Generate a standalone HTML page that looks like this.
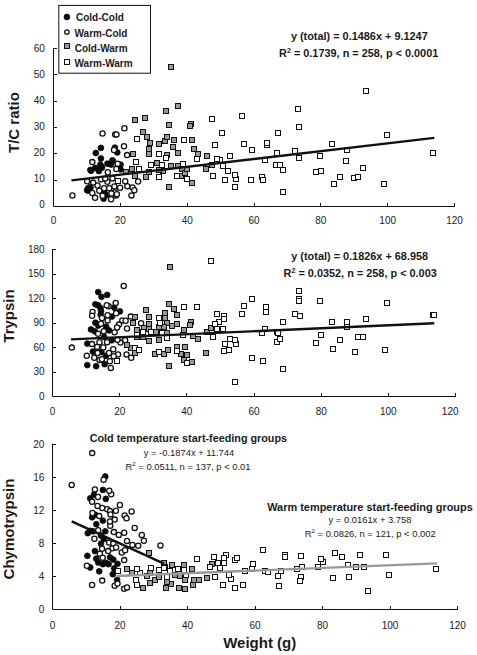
<!DOCTYPE html>
<html><head><meta charset="utf-8"><title>chart</title>
<style>html,body{margin:0;padding:0;background:#fff}svg{display:block}
text{font-family:"Liberation Sans",sans-serif;fill:#1a1a1a}
.t{font-size:10px}.s{font-size:9.4px}.b{font-weight:bold}
.ax{stroke:#111;stroke-width:1;fill:none}
.C{fill:#0a0a0a;stroke:#0a0a0a;stroke-width:0.8}
.O{fill:#fff;stroke:#111;stroke-width:1.3}
.G{fill:#999;stroke:#111;stroke-width:1}
.W{fill:#fff;stroke:#111;stroke-width:1}
</style></head><body>
<svg width="477" height="655" viewBox="0 0 477 655">
<rect width="477" height="655" fill="#fff"/>
<g id="p1">
<path class="ax" d="M53.5 48.0 V206.5 H455.0"/>
<text class="t" x="44.8" y="208.4" text-anchor="end">0</text>
<text class="t" x="44.8" y="182.3" text-anchor="end">10</text>
<text class="t" x="44.8" y="156.2" text-anchor="end">20</text>
<text class="t" x="44.8" y="130.1" text-anchor="end">30</text>
<text class="t" x="44.8" y="104.0" text-anchor="end">40</text>
<text class="t" x="44.8" y="77.9" text-anchor="end">50</text>
<text class="t" x="44.8" y="51.8" text-anchor="end">60</text>
<text class="t" x="53.5" y="223.7" text-anchor="middle">0</text>
<text class="t" x="120.3" y="223.7" text-anchor="middle">20</text>
<text class="t" x="187.2" y="223.7" text-anchor="middle">40</text>
<text class="t" x="254.0" y="223.7" text-anchor="middle">60</text>
<text class="t" x="320.8" y="223.7" text-anchor="middle">80</text>
<text class="t" x="387.7" y="223.7" text-anchor="middle">100</text>
<text class="t" x="454.5" y="223.7" text-anchor="middle">120</text>
<path class="ax" d="M53.5 180.5h3.5M53.5 153.5h3.5M53.5 127.5h3.5M53.5 101.5h3.5M53.5 74.5h3.5M53.5 48.5h3.5M120.5 206.5v-3.5M187.5 206.5v-3.5M254.5 206.5v-3.5M320.5 206.5v-3.5M387.5 206.5v-3.5M454.5 206.5v-3.5"/>
<circle class="C" cx="100.9" cy="147.9" r="2.9"/>
<circle class="C" cx="95.8" cy="153.0" r="2.9"/>
<circle class="C" cx="100.9" cy="158.5" r="2.9"/>
<circle class="C" cx="104.5" cy="193.0" r="2.9"/>
<circle class="C" cx="112.5" cy="160.4" r="2.9"/>
<circle class="C" cx="98.9" cy="170.4" r="2.9"/>
<circle class="C" cx="90.4" cy="187.8" r="2.9"/>
<circle class="C" cx="114.9" cy="147.6" r="2.9"/>
<circle class="C" cx="90.4" cy="169.9" r="2.9"/>
<circle class="C" cx="95.1" cy="168.0" r="2.9"/>
<circle class="C" cx="88.0" cy="188.3" r="2.9"/>
<circle class="C" cx="117.3" cy="152.4" r="2.9"/>
<circle class="C" cx="107.4" cy="163.7" r="2.9"/>
<circle class="C" cx="87.1" cy="190.2" r="2.9"/>
<circle class="C" cx="100.3" cy="164.6" r="2.9"/>
<circle class="C" cx="111.1" cy="164.6" r="2.9"/>
<circle class="C" cx="103.6" cy="198.7" r="2.9"/>
<circle class="C" cx="120.6" cy="164.6" r="2.9"/>
<circle class="C" cx="120.6" cy="169.4" r="2.9"/>
<circle class="C" cx="106" cy="195.2" r="2.9"/>
<circle class="C" cx="101" cy="166.2" r="2.9"/>
<circle class="C" cx="98.9" cy="171" r="2.9"/>
<circle class="C" cx="91" cy="170.7" r="2.9"/>
<circle class="C" cx="102" cy="167.6" r="2.9"/>
<circle class="C" cx="112.7" cy="160.7" r="2.9"/>
<circle class="C" cx="88" cy="190.5" r="2.9"/>
<circle class="C" cx="90.1" cy="187.2" r="2.9"/>
<circle class="O" cx="138.1" cy="181.5" r="2.6"/>
<circle class="O" cx="107.4" cy="181.7" r="2.6"/>
<circle class="O" cx="97.5" cy="185.5" r="2.6"/>
<circle class="O" cx="132.5" cy="187.4" r="2.6"/>
<circle class="O" cx="104.1" cy="188.3" r="2.6"/>
<circle class="O" cx="109.2" cy="188.3" r="2.6"/>
<circle class="O" cx="134.3" cy="190.2" r="2.6"/>
<circle class="O" cx="99.3" cy="190.7" r="2.6"/>
<circle class="O" cx="93.2" cy="182.6" r="2.6"/>
<circle class="O" cx="112.5" cy="178.4" r="2.6"/>
<circle class="O" cx="107.8" cy="172.3" r="2.6"/>
<circle class="O" cx="127.3" cy="186.2" r="2.6"/>
<circle class="O" cx="92.3" cy="193.0" r="2.6"/>
<circle class="O" cx="114.0" cy="150.0" r="2.6"/>
<circle class="O" cx="114.4" cy="186.4" r="2.6"/>
<circle class="O" cx="125.2" cy="181.2" r="2.6"/>
<circle class="O" cx="114.9" cy="192.5" r="2.6"/>
<circle class="O" cx="127.1" cy="155.1" r="2.6"/>
<circle class="O" cx="131.5" cy="195.4" r="2.6"/>
<circle class="O" cx="115.2" cy="134.4" r="2.6"/>
<circle class="O" cx="92.3" cy="162.1" r="2.6"/>
<circle class="O" cx="102.6" cy="195.8" r="2.6"/>
<circle class="O" cx="124.0" cy="146.2" r="2.6"/>
<circle class="O" cx="116.3" cy="169.0" r="2.6"/>
<circle class="O" cx="102.5" cy="133.5" r="2.6"/>
<circle class="O" cx="116.5" cy="134.4" r="2.6"/>
<circle class="O" cx="124.4" cy="128.3" r="2.6"/>
<circle class="O" cx="117.7" cy="163.7" r="2.6"/>
<circle class="O" cx="95.1" cy="197.7" r="2.6"/>
<circle class="O" cx="87.1" cy="181.2" r="2.6"/>
<circle class="O" cx="111.1" cy="199.2" r="2.6"/>
<circle class="O" cx="120.1" cy="187.8" r="2.6"/>
<circle class="O" cx="115.9" cy="195.4" r="2.6"/>
<circle class="O" cx="72.4" cy="195.5" r="2.6"/>
<circle class="O" cx="116.9" cy="194.3" r="2.6"/>
<circle class="O" cx="101" cy="179.2" r="2.6"/>
<circle class="O" cx="105.2" cy="178.4" r="2.6"/>
<circle class="O" cx="111.4" cy="193.5" r="2.6"/>
<rect class="G" x="168.5" y="163.5" width="5" height="5"/>
<rect class="G" x="160.5" y="168.5" width="5" height="5"/>
<rect class="G" x="175.5" y="103.5" width="5" height="5"/>
<rect class="G" x="175.5" y="163.5" width="5" height="5"/>
<rect class="G" x="163.5" y="108.5" width="5" height="5"/>
<rect class="G" x="178.5" y="173.5" width="5" height="5"/>
<rect class="G" x="156.5" y="167.5" width="5" height="5"/>
<rect class="G" x="132.5" y="173.5" width="5" height="5"/>
<rect class="G" x="179.5" y="166.5" width="5" height="5"/>
<rect class="G" x="154.5" y="160.5" width="5" height="5"/>
<rect class="G" x="182.5" y="170.5" width="5" height="5"/>
<rect class="G" x="164.5" y="152.5" width="5" height="5"/>
<rect class="G" x="143.5" y="174.5" width="5" height="5"/>
<rect class="G" x="144.5" y="134.5" width="5" height="5"/>
<rect class="G" x="175.5" y="150.5" width="5" height="5"/>
<rect class="G" x="184.5" y="166.5" width="5" height="5"/>
<rect class="G" x="166.5" y="184.5" width="5" height="5"/>
<rect class="G" x="140.5" y="129.5" width="5" height="5"/>
<rect class="G" x="146.5" y="169.5" width="5" height="5"/>
<rect class="G" x="123.5" y="169.5" width="5" height="5"/>
<rect class="G" x="130.5" y="151.5" width="5" height="5"/>
<rect class="G" x="146.5" y="151.5" width="5" height="5"/>
<rect class="G" x="146.5" y="146.5" width="5" height="5"/>
<rect class="G" x="189.5" y="180.5" width="5" height="5"/>
<rect class="G" x="147.5" y="140.5" width="5" height="5"/>
<rect class="G" x="170.5" y="144.5" width="5" height="5"/>
<rect class="G" x="129.5" y="166.5" width="5" height="5"/>
<rect class="G" x="191.5" y="146.5" width="5" height="5"/>
<rect class="G" x="188.5" y="121.5" width="5" height="5"/>
<rect class="G" x="166.5" y="122.5" width="5" height="5"/>
<rect class="G" x="142.5" y="115.5" width="5" height="5"/>
<rect class="G" x="156.5" y="141.5" width="5" height="5"/>
<rect class="G" x="187.5" y="123.5" width="5" height="5"/>
<rect class="G" x="195.5" y="151.5" width="5" height="5"/>
<rect class="G" x="162.5" y="138.5" width="5" height="5"/>
<rect class="G" x="171.5" y="137.5" width="5" height="5"/>
<rect class="G" x="189.5" y="137.5" width="5" height="5"/>
<rect class="G" x="168.5" y="64.5" width="5" height="5"/>
<rect class="G" x="164.5" y="134.5" width="5" height="5"/>
<rect class="G" x="132.5" y="117.5" width="5" height="5"/>
<rect class="G" x="203.5" y="166.5" width="5" height="5"/>
<rect class="G" x="204.5" y="153.5" width="5" height="5"/>
<rect class="G" x="209.5" y="162.5" width="5" height="5"/>
<rect class="W" x="134.5" y="136.5" width="5" height="5"/>
<rect class="W" x="174.5" y="173.5" width="5" height="5"/>
<rect class="W" x="159.5" y="162.5" width="5" height="5"/>
<rect class="W" x="318.5" y="168.5" width="5" height="5"/>
<rect class="W" x="337.5" y="174.5" width="5" height="5"/>
<rect class="W" x="248.5" y="177.5" width="5" height="5"/>
<rect class="W" x="156.5" y="174.5" width="5" height="5"/>
<rect class="W" x="259.5" y="174.5" width="5" height="5"/>
<rect class="W" x="163.5" y="155.5" width="5" height="5"/>
<rect class="W" x="180.5" y="161.5" width="5" height="5"/>
<rect class="W" x="260.5" y="177.5" width="5" height="5"/>
<rect class="W" x="313.5" y="169.5" width="5" height="5"/>
<rect class="W" x="331.5" y="181.5" width="5" height="5"/>
<rect class="W" x="233.5" y="176.5" width="5" height="5"/>
<rect class="W" x="317.5" y="153.5" width="5" height="5"/>
<rect class="W" x="262.5" y="157.5" width="5" height="5"/>
<rect class="W" x="232.5" y="172.5" width="5" height="5"/>
<rect class="W" x="239.5" y="113.5" width="5" height="5"/>
<rect class="W" x="343.5" y="158.5" width="5" height="5"/>
<rect class="W" x="156.5" y="151.5" width="5" height="5"/>
<rect class="W" x="232.5" y="184.5" width="5" height="5"/>
<rect class="W" x="184.5" y="176.5" width="5" height="5"/>
<rect class="W" x="148.5" y="162.5" width="5" height="5"/>
<rect class="W" x="344.5" y="147.5" width="5" height="5"/>
<rect class="W" x="249.5" y="147.5" width="5" height="5"/>
<rect class="W" x="227.5" y="153.5" width="5" height="5"/>
<rect class="W" x="225.5" y="168.5" width="5" height="5"/>
<rect class="W" x="136.5" y="166.5" width="5" height="5"/>
<rect class="W" x="430.5" y="150.5" width="5" height="5"/>
<rect class="W" x="351.5" y="175.5" width="5" height="5"/>
<rect class="W" x="264.5" y="142.5" width="5" height="5"/>
<rect class="W" x="222.5" y="177.5" width="5" height="5"/>
<rect class="W" x="273.5" y="162.5" width="5" height="5"/>
<rect class="W" x="241.5" y="141.5" width="5" height="5"/>
<rect class="W" x="329.5" y="141.5" width="5" height="5"/>
<rect class="W" x="381.5" y="181.5" width="5" height="5"/>
<rect class="W" x="220.5" y="163.5" width="5" height="5"/>
<rect class="W" x="194.5" y="156.5" width="5" height="5"/>
<rect class="W" x="115.5" y="178.5" width="5" height="5"/>
<rect class="W" x="264.5" y="140.5" width="5" height="5"/>
<rect class="W" x="274.5" y="150.5" width="5" height="5"/>
<rect class="W" x="355.5" y="174.5" width="5" height="5"/>
<rect class="W" x="217.5" y="157.5" width="5" height="5"/>
<rect class="W" x="277.5" y="162.5" width="5" height="5"/>
<rect class="W" x="181.5" y="137.5" width="5" height="5"/>
<rect class="W" x="296.5" y="124.5" width="5" height="5"/>
<rect class="W" x="296.5" y="155.5" width="5" height="5"/>
<rect class="W" x="295.5" y="106.5" width="5" height="5"/>
<rect class="W" x="214.5" y="156.5" width="5" height="5"/>
<rect class="W" x="360.5" y="165.5" width="5" height="5"/>
<rect class="W" x="280.5" y="167.5" width="5" height="5"/>
<rect class="W" x="280.5" y="189.5" width="5" height="5"/>
<rect class="W" x="219.5" y="130.5" width="5" height="5"/>
<rect class="W" x="275.5" y="130.5" width="5" height="5"/>
<rect class="W" x="133.5" y="159.5" width="5" height="5"/>
<rect class="W" x="292.5" y="148.5" width="5" height="5"/>
<rect class="W" x="212.5" y="142.5" width="5" height="5"/>
<rect class="W" x="384.5" y="132.5" width="5" height="5"/>
<rect class="W" x="363.5" y="88.5" width="5" height="5"/>
<rect class="W" x="210.5" y="173.5" width="5" height="5"/>
<rect class="W" x="209.5" y="116.5" width="5" height="5"/>
</g>
<g id="p2">
<path class="ax" d="M52.5 249.0 V396.5 H456.0"/>
<text class="t" x="44.6" y="399.6" text-anchor="end">0</text>
<text class="t" x="44.6" y="375.1" text-anchor="end">30</text>
<text class="t" x="44.6" y="350.6" text-anchor="end">60</text>
<text class="t" x="44.6" y="326.2" text-anchor="end">90</text>
<text class="t" x="44.6" y="301.7" text-anchor="end">120</text>
<text class="t" x="44.6" y="277.2" text-anchor="end">150</text>
<text class="t" x="44.6" y="252.8" text-anchor="end">180</text>
<text class="t" x="52.5" y="415.4" text-anchor="middle">0</text>
<text class="t" x="119.7" y="415.4" text-anchor="middle">20</text>
<text class="t" x="186.8" y="415.4" text-anchor="middle">40</text>
<text class="t" x="254.0" y="415.4" text-anchor="middle">60</text>
<text class="t" x="321.2" y="415.4" text-anchor="middle">80</text>
<text class="t" x="388.3" y="415.4" text-anchor="middle">100</text>
<text class="t" x="450.2" y="415.4" text-anchor="middle">120</text>
<path class="ax" d="M52.5 372.5h3.5M52.5 347.5h3.5M52.5 323.5h3.5M52.5 298.5h3.5M52.5 274.5h3.5M52.5 249.5h3.5M119.5 396.5v-3.5M186.5 396.5v-3.5M254.5 396.5v-3.5M321.5 396.5v-3.5M388.5 396.5v-3.5M455.5 396.5v-3.5"/>
<circle class="C" cx="96.2" cy="366.2" r="2.9"/>
<circle class="C" cx="101.0" cy="311.4" r="2.9"/>
<circle class="C" cx="114.2" cy="307.6" r="2.9"/>
<circle class="C" cx="104.2" cy="337.0" r="2.9"/>
<circle class="C" cx="100.6" cy="308.1" r="2.9"/>
<circle class="C" cx="100.6" cy="314.7" r="2.9"/>
<circle class="C" cx="104.7" cy="364.2" r="2.9"/>
<circle class="C" cx="111.9" cy="316.6" r="2.9"/>
<circle class="C" cx="92.9" cy="351.6" r="2.9"/>
<circle class="C" cx="98.2" cy="305.3" r="2.9"/>
<circle class="C" cx="101.4" cy="352.1" r="2.9"/>
<circle class="C" cx="87.3" cy="343.6" r="2.9"/>
<circle class="C" cx="87.3" cy="365.1" r="2.9"/>
<circle class="C" cx="101.5" cy="296.8" r="2.9"/>
<circle class="C" cx="94.8" cy="331.3" r="2.9"/>
<circle class="C" cx="95.4" cy="304.3" r="2.9"/>
<circle class="C" cx="109.0" cy="330.4" r="2.9"/>
<circle class="C" cx="119.9" cy="311.4" r="2.9"/>
<circle class="C" cx="107.2" cy="294.9" r="2.9"/>
<circle class="C" cx="91.0" cy="329.4" r="2.9"/>
<circle class="C" cx="106.1" cy="355.8" r="2.9"/>
<circle class="C" cx="111.8" cy="340.3" r="2.9"/>
<circle class="C" cx="95.4" cy="322.7" r="2.9"/>
<circle class="C" cx="98.2" cy="292.1" r="2.9"/>
<circle class="C" cx="106.1" cy="326.6" r="2.9"/>
<circle class="C" cx="98.2" cy="325.6" r="2.9"/>
<circle class="O" cx="108.6" cy="306.2" r="2.6"/>
<circle class="O" cx="99.5" cy="342.2" r="2.6"/>
<circle class="O" cx="106.7" cy="305.3" r="2.6"/>
<circle class="O" cx="97.2" cy="346.9" r="2.6"/>
<circle class="O" cx="92.0" cy="344.1" r="2.6"/>
<circle class="O" cx="103.3" cy="347.4" r="2.6"/>
<circle class="O" cx="107.6" cy="315.2" r="2.6"/>
<circle class="O" cx="125.1" cy="340.3" r="2.6"/>
<circle class="O" cx="115.7" cy="302.9" r="2.6"/>
<circle class="O" cx="130.8" cy="316.6" r="2.6"/>
<circle class="O" cx="116.1" cy="313.3" r="2.6"/>
<circle class="O" cx="98.1" cy="333.7" r="2.6"/>
<circle class="O" cx="107.1" cy="342.2" r="2.6"/>
<circle class="O" cx="102.0" cy="318.0" r="2.6"/>
<circle class="O" cx="97.6" cy="353.0" r="2.6"/>
<circle class="O" cx="103.8" cy="331.3" r="2.6"/>
<circle class="O" cx="109.0" cy="353.0" r="2.6"/>
<circle class="O" cx="126.5" cy="354.4" r="2.6"/>
<circle class="O" cx="120.4" cy="342.6" r="2.6"/>
<circle class="O" cx="122.3" cy="320.4" r="2.6"/>
<circle class="O" cx="109.9" cy="361.3" r="2.6"/>
<circle class="O" cx="107.6" cy="320.4" r="2.6"/>
<circle class="O" cx="125.6" cy="320.8" r="2.6"/>
<circle class="O" cx="99.5" cy="359.9" r="2.6"/>
<circle class="O" cx="86.8" cy="355.8" r="2.6"/>
<circle class="O" cx="101.9" cy="359.2" r="2.6"/>
<circle class="O" cx="110.8" cy="367.9" r="2.6"/>
<circle class="O" cx="127.0" cy="328.5" r="2.6"/>
<circle class="O" cx="118.0" cy="354.4" r="2.6"/>
<circle class="O" cx="94.3" cy="357.7" r="2.6"/>
<circle class="O" cx="92.5" cy="311.9" r="2.6"/>
<circle class="O" cx="117.5" cy="339.8" r="2.6"/>
<circle class="O" cx="141.1" cy="323.2" r="2.6"/>
<circle class="O" cx="131.2" cy="357.7" r="2.6"/>
<circle class="O" cx="92.1" cy="315.7" r="2.6"/>
<circle class="O" cx="113.2" cy="349.2" r="2.6"/>
<circle class="O" cx="101.0" cy="323.7" r="2.6"/>
<circle class="O" cx="113.7" cy="356.3" r="2.6"/>
<circle class="O" cx="119.0" cy="324.6" r="2.6"/>
<circle class="O" cx="114.6" cy="332.3" r="2.6"/>
<circle class="O" cx="117.1" cy="327.5" r="2.6"/>
<circle class="O" cx="123.7" cy="285.9" r="2.6"/>
<circle class="O" cx="71.8" cy="347.6" r="2.6"/>
<rect class="G" x="161.5" y="351.5" width="5" height="5"/>
<rect class="G" x="166.5" y="363.5" width="5" height="5"/>
<rect class="G" x="128.5" y="345.5" width="5" height="5"/>
<rect class="G" x="165.5" y="347.5" width="5" height="5"/>
<rect class="G" x="134.5" y="334.5" width="5" height="5"/>
<rect class="G" x="124.5" y="342.5" width="5" height="5"/>
<rect class="G" x="178.5" y="351.5" width="5" height="5"/>
<rect class="G" x="166.5" y="301.5" width="5" height="5"/>
<rect class="G" x="174.5" y="344.5" width="5" height="5"/>
<rect class="G" x="181.5" y="357.5" width="5" height="5"/>
<rect class="G" x="182.5" y="344.5" width="5" height="5"/>
<rect class="G" x="152.5" y="351.5" width="5" height="5"/>
<rect class="G" x="132.5" y="314.5" width="5" height="5"/>
<rect class="G" x="171.5" y="306.5" width="5" height="5"/>
<rect class="G" x="184.5" y="352.5" width="5" height="5"/>
<rect class="G" x="132.5" y="350.5" width="5" height="5"/>
<rect class="G" x="140.5" y="334.5" width="5" height="5"/>
<rect class="G" x="156.5" y="337.5" width="5" height="5"/>
<rect class="G" x="146.5" y="338.5" width="5" height="5"/>
<rect class="G" x="162.5" y="310.5" width="5" height="5"/>
<rect class="G" x="189.5" y="359.5" width="5" height="5"/>
<rect class="G" x="174.5" y="312.5" width="5" height="5"/>
<rect class="G" x="134.5" y="327.5" width="5" height="5"/>
<rect class="G" x="167.5" y="264.5" width="5" height="5"/>
<rect class="G" x="143.5" y="307.5" width="5" height="5"/>
<rect class="G" x="190.5" y="333.5" width="5" height="5"/>
<rect class="G" x="146.5" y="314.5" width="5" height="5"/>
<rect class="G" x="162.5" y="315.5" width="5" height="5"/>
<rect class="G" x="141.5" y="325.5" width="5" height="5"/>
<rect class="G" x="130.5" y="320.5" width="5" height="5"/>
<rect class="G" x="164.5" y="330.5" width="5" height="5"/>
<rect class="G" x="153.5" y="329.5" width="5" height="5"/>
<rect class="G" x="195.5" y="336.5" width="5" height="5"/>
<rect class="G" x="146.5" y="326.5" width="5" height="5"/>
<rect class="G" x="146.5" y="321.5" width="5" height="5"/>
<rect class="G" x="181.5" y="327.5" width="5" height="5"/>
<rect class="G" x="188.5" y="319.5" width="5" height="5"/>
<rect class="G" x="164.5" y="320.5" width="5" height="5"/>
<rect class="G" x="174.5" y="321.5" width="5" height="5"/>
<rect class="G" x="187.5" y="322.5" width="5" height="5"/>
<rect class="G" x="156.5" y="324.5" width="5" height="5"/>
<rect class="G" x="161.5" y="324.5" width="5" height="5"/>
<rect class="G" x="169.5" y="323.5" width="5" height="5"/>
<rect class="G" x="203.5" y="350.5" width="5" height="5"/>
<rect class="G" x="204.5" y="329.5" width="5" height="5"/>
<rect class="G" x="208.5" y="325.5" width="5" height="5"/>
<rect class="W" x="249.5" y="355.5" width="5" height="5"/>
<rect class="W" x="329.5" y="319.5" width="5" height="5"/>
<rect class="W" x="249.5" y="296.5" width="5" height="5"/>
<rect class="W" x="174.5" y="348.5" width="5" height="5"/>
<rect class="W" x="132.5" y="345.5" width="5" height="5"/>
<rect class="W" x="156.5" y="349.5" width="5" height="5"/>
<rect class="W" x="134.5" y="332.5" width="5" height="5"/>
<rect class="W" x="260.5" y="358.5" width="5" height="5"/>
<rect class="W" x="241.5" y="303.5" width="5" height="5"/>
<rect class="W" x="136.5" y="347.5" width="5" height="5"/>
<rect class="W" x="181.5" y="304.5" width="5" height="5"/>
<rect class="W" x="318.5" y="332.5" width="5" height="5"/>
<rect class="W" x="233.5" y="341.5" width="5" height="5"/>
<rect class="W" x="263.5" y="304.5" width="5" height="5"/>
<rect class="W" x="344.5" y="319.5" width="5" height="5"/>
<rect class="W" x="184.5" y="360.5" width="5" height="5"/>
<rect class="W" x="344.5" y="324.5" width="5" height="5"/>
<rect class="W" x="317.5" y="298.5" width="5" height="5"/>
<rect class="W" x="140.5" y="329.5" width="5" height="5"/>
<rect class="W" x="232.5" y="337.5" width="5" height="5"/>
<rect class="W" x="337.5" y="337.5" width="5" height="5"/>
<rect class="W" x="263.5" y="309.5" width="5" height="5"/>
<rect class="W" x="227.5" y="336.5" width="5" height="5"/>
<rect class="W" x="226.5" y="347.5" width="5" height="5"/>
<rect class="W" x="164.5" y="335.5" width="5" height="5"/>
<rect class="W" x="239.5" y="311.5" width="5" height="5"/>
<rect class="W" x="232.5" y="379.5" width="5" height="5"/>
<rect class="W" x="430.5" y="312.5" width="5" height="5"/>
<rect class="W" x="384.5" y="300.5" width="5" height="5"/>
<rect class="W" x="313.5" y="340.5" width="5" height="5"/>
<rect class="W" x="431.5" y="312.5" width="5" height="5"/>
<rect class="W" x="180.5" y="332.5" width="5" height="5"/>
<rect class="W" x="222.5" y="341.5" width="5" height="5"/>
<rect class="W" x="156.5" y="315.5" width="5" height="5"/>
<rect class="W" x="221.5" y="348.5" width="5" height="5"/>
<rect class="W" x="221.5" y="313.5" width="5" height="5"/>
<rect class="W" x="194.5" y="304.5" width="5" height="5"/>
<rect class="W" x="274.5" y="339.5" width="5" height="5"/>
<rect class="W" x="221.5" y="316.5" width="5" height="5"/>
<rect class="W" x="159.5" y="330.5" width="5" height="5"/>
<rect class="W" x="259.5" y="330.5" width="5" height="5"/>
<rect class="W" x="355.5" y="334.5" width="5" height="5"/>
<rect class="W" x="148.5" y="329.5" width="5" height="5"/>
<rect class="W" x="274.5" y="329.5" width="5" height="5"/>
<rect class="W" x="275.5" y="330.5" width="5" height="5"/>
<rect class="W" x="330.5" y="346.5" width="5" height="5"/>
<rect class="W" x="297.5" y="313.5" width="5" height="5"/>
<rect class="W" x="277.5" y="336.5" width="5" height="5"/>
<rect class="W" x="382.5" y="347.5" width="5" height="5"/>
<rect class="W" x="216.5" y="319.5" width="5" height="5"/>
<rect class="W" x="296.5" y="296.5" width="5" height="5"/>
<rect class="W" x="296.5" y="298.5" width="5" height="5"/>
<rect class="W" x="157.5" y="320.5" width="5" height="5"/>
<rect class="W" x="220.5" y="326.5" width="5" height="5"/>
<rect class="W" x="262.5" y="326.5" width="5" height="5"/>
<rect class="W" x="296.5" y="288.5" width="5" height="5"/>
<rect class="W" x="352.5" y="349.5" width="5" height="5"/>
<rect class="W" x="214.5" y="311.5" width="5" height="5"/>
<rect class="W" x="280.5" y="319.5" width="5" height="5"/>
<rect class="W" x="280.5" y="366.5" width="5" height="5"/>
<rect class="W" x="360.5" y="334.5" width="5" height="5"/>
<rect class="W" x="214.5" y="326.5" width="5" height="5"/>
<rect class="W" x="114.5" y="358.5" width="5" height="5"/>
<rect class="W" x="292.5" y="311.5" width="5" height="5"/>
<rect class="W" x="212.5" y="321.5" width="5" height="5"/>
<rect class="W" x="363.5" y="316.5" width="5" height="5"/>
<rect class="W" x="210.5" y="334.5" width="5" height="5"/>
<rect class="W" x="208.5" y="258.5" width="5" height="5"/>
</g>
<g id="p3">
<path class="ax" d="M52.5 444.0 V609.5 H458.0"/>
<text class="t" x="44.4" y="612.7" text-anchor="end">0</text>
<text class="t" x="44.4" y="579.7" text-anchor="end">4</text>
<text class="t" x="44.4" y="546.8" text-anchor="end">8</text>
<text class="t" x="44.4" y="513.8" text-anchor="end">12</text>
<text class="t" x="44.4" y="480.8" text-anchor="end">16</text>
<text class="t" x="44.4" y="447.9" text-anchor="end">20</text>
<text class="t" x="52.5" y="628.8" text-anchor="middle">0</text>
<text class="t" x="120.0" y="628.8" text-anchor="middle">20</text>
<text class="t" x="187.5" y="628.8" text-anchor="middle">40</text>
<text class="t" x="255.0" y="628.8" text-anchor="middle">60</text>
<text class="t" x="322.5" y="628.8" text-anchor="middle">80</text>
<text class="t" x="390.0" y="628.8" text-anchor="middle">100</text>
<text class="t" x="457.5" y="628.8" text-anchor="middle">120</text>
<path class="ax" d="M52.5 576.5h3.5M52.5 543.5h3.5M52.5 510.5h3.5M52.5 477.5h3.5M52.5 444.5h3.5M120.5 609.5v-3.5M187.5 609.5v-3.5M255.5 609.5v-3.5M322.5 609.5v-3.5M390.5 609.5v-3.5M457.5 609.5v-3.5"/>
<circle class="C" cx="105.8" cy="498.9" r="2.9"/>
<circle class="C" cx="103.9" cy="538.9" r="2.9"/>
<circle class="C" cx="105.3" cy="476.5" r="2.9"/>
<circle class="C" cx="101.0" cy="543.6" r="2.9"/>
<circle class="C" cx="101.0" cy="535.6" r="2.9"/>
<circle class="C" cx="112.8" cy="574.2" r="2.9"/>
<circle class="C" cx="117.1" cy="579.8" r="2.9"/>
<circle class="C" cx="105.3" cy="531.3" r="2.9"/>
<circle class="C" cx="99.2" cy="571.3" r="2.9"/>
<circle class="C" cx="95.4" cy="514.9" r="2.9"/>
<circle class="C" cx="102.9" cy="489.9" r="2.9"/>
<circle class="C" cx="94.9" cy="551.1" r="2.9"/>
<circle class="C" cx="94.0" cy="494.6" r="2.9"/>
<circle class="C" cx="114.2" cy="568.5" r="2.9"/>
<circle class="C" cx="110.0" cy="557.3" r="2.9"/>
<circle class="C" cx="93.0" cy="531.3" r="2.9"/>
<circle class="C" cx="92.1" cy="517.3" r="2.9"/>
<circle class="C" cx="96.3" cy="558.7" r="2.9"/>
<circle class="C" cx="113.3" cy="559.6" r="2.9"/>
<circle class="C" cx="90.2" cy="498.4" r="2.9"/>
<circle class="C" cx="90.2" cy="530.8" r="2.9"/>
<circle class="C" cx="90.2" cy="567.5" r="2.9"/>
<circle class="C" cx="102.9" cy="520.6" r="2.9"/>
<circle class="C" cx="96.3" cy="524.2" r="2.9"/>
<circle class="C" cx="102.9" cy="564.2" r="2.9"/>
<circle class="C" cx="108.6" cy="564.2" r="2.9"/>
<circle class="C" cx="117.5" cy="563.8" r="2.9"/>
<circle class="C" cx="87.8" cy="533.2" r="2.9"/>
<circle class="C" cx="98.2" cy="562.5" r="2.9"/>
<circle class="C" cx="87.4" cy="555.8" r="2.9"/>
<circle class="C" cx="105.8" cy="562.9" r="2.9"/>
<circle class="O" cx="109.1" cy="542.6" r="2.6"/>
<circle class="O" cx="103.6" cy="479.7" r="2.6"/>
<circle class="O" cx="102.2" cy="508.0" r="2.6"/>
<circle class="O" cx="102.2" cy="580.6" r="2.6"/>
<circle class="O" cx="112.4" cy="548.3" r="2.6"/>
<circle class="O" cx="141.8" cy="535.0" r="2.6"/>
<circle class="O" cx="113.3" cy="543.6" r="2.6"/>
<circle class="O" cx="102.0" cy="548.8" r="2.6"/>
<circle class="O" cx="107.2" cy="509.2" r="2.6"/>
<circle class="O" cx="114.7" cy="585.7" r="2.6"/>
<circle class="O" cx="143.9" cy="540.7" r="2.6"/>
<circle class="O" cx="111.2" cy="494.2" r="2.6"/>
<circle class="O" cx="110.0" cy="511.1" r="2.6"/>
<circle class="O" cx="108.1" cy="551.1" r="2.6"/>
<circle class="O" cx="115.9" cy="510.7" r="2.6"/>
<circle class="O" cx="116.1" cy="547.4" r="2.6"/>
<circle class="O" cx="98.0" cy="497.0" r="2.6"/>
<circle class="O" cx="97.5" cy="505.9" r="2.6"/>
<circle class="O" cx="117.5" cy="583.6" r="2.6"/>
<circle class="O" cx="113.8" cy="532.1" r="2.6"/>
<circle class="O" cx="99.9" cy="553.8" r="2.6"/>
<circle class="O" cx="118.8" cy="534.9" r="2.6"/>
<circle class="O" cx="109.3" cy="490.8" r="2.6"/>
<circle class="O" cx="110.5" cy="514.4" r="2.6"/>
<circle class="O" cx="98.2" cy="530.2" r="2.6"/>
<circle class="O" cx="119.9" cy="505.0" r="2.6"/>
<circle class="O" cx="134.7" cy="527.9" r="2.6"/>
<circle class="O" cx="160.4" cy="545.4" r="2.6"/>
<circle class="O" cx="94.9" cy="489.4" r="2.6"/>
<circle class="O" cx="94.4" cy="538.7" r="2.6"/>
<circle class="O" cx="138.2" cy="545.7" r="2.6"/>
<circle class="O" cx="99.2" cy="516.1" r="2.6"/>
<circle class="O" cx="121.8" cy="552.5" r="2.6"/>
<circle class="O" cx="92.5" cy="513.0" r="2.6"/>
<circle class="O" cx="102.7" cy="557.7" r="2.6"/>
<circle class="O" cx="132.4" cy="544.9" r="2.6"/>
<circle class="O" cx="92.1" cy="501.7" r="2.6"/>
<circle class="O" cx="92.1" cy="585.0" r="2.6"/>
<circle class="O" cx="71.7" cy="484.9" r="2.6"/>
<circle class="O" cx="110.3" cy="525.8" r="2.6"/>
<circle class="O" cx="124.2" cy="532.7" r="2.6"/>
<circle class="O" cx="124.2" cy="588.8" r="2.6"/>
<circle class="O" cx="114.7" cy="519.6" r="2.6"/>
<circle class="O" cx="124.6" cy="515.4" r="2.6"/>
<circle class="O" cx="124.2" cy="560.1" r="2.6"/>
<circle class="O" cx="125.1" cy="550.2" r="2.6"/>
<circle class="O" cx="92.2" cy="453.1" r="2.6"/>
<circle class="O" cx="110.0" cy="521.5" r="2.6"/>
<circle class="O" cx="126.5" cy="518.2" r="2.6"/>
<circle class="O" cx="127.0" cy="540.9" r="2.6"/>
<circle class="O" cx="127.0" cy="587.4" r="2.6"/>
<circle class="O" cx="86.9" cy="565.7" r="2.6"/>
<circle class="O" cx="131.6" cy="511.4" r="2.6"/>
<rect class="G" x="147.5" y="570.5" width="5" height="5"/>
<rect class="G" x="144.5" y="573.5" width="5" height="5"/>
<rect class="G" x="176.5" y="585.5" width="5" height="5"/>
<rect class="G" x="189.5" y="566.5" width="5" height="5"/>
<rect class="G" x="177.5" y="573.5" width="5" height="5"/>
<rect class="G" x="181.5" y="562.5" width="5" height="5"/>
<rect class="G" x="152.5" y="577.5" width="5" height="5"/>
<rect class="G" x="182.5" y="577.5" width="5" height="5"/>
<rect class="G" x="191.5" y="577.5" width="5" height="5"/>
<rect class="G" x="182.5" y="586.5" width="5" height="5"/>
<rect class="G" x="147.5" y="580.5" width="5" height="5"/>
<rect class="G" x="156.5" y="574.5" width="5" height="5"/>
<rect class="G" x="196.5" y="577.5" width="5" height="5"/>
<rect class="G" x="190.5" y="582.5" width="5" height="5"/>
<rect class="G" x="172.5" y="572.5" width="5" height="5"/>
<rect class="G" x="129.5" y="570.5" width="5" height="5"/>
<rect class="G" x="140.5" y="585.5" width="5" height="5"/>
<rect class="G" x="169.5" y="562.5" width="5" height="5"/>
<rect class="G" x="161.5" y="560.5" width="5" height="5"/>
<rect class="G" x="168.5" y="581.5" width="5" height="5"/>
<rect class="G" x="163.5" y="585.5" width="5" height="5"/>
<rect class="G" x="164.5" y="579.5" width="5" height="5"/>
<rect class="G" x="124.5" y="566.5" width="5" height="5"/>
<rect class="G" x="204.5" y="575.5" width="5" height="5"/>
<rect class="G" x="146.5" y="550.5" width="5" height="5"/>
<rect class="G" x="209.5" y="561.5" width="5" height="5"/>
<rect class="G" x="162.5" y="564.5" width="5" height="5"/>
<rect class="W" x="330.5" y="575.5" width="5" height="5"/>
<rect class="W" x="183.5" y="572.5" width="5" height="5"/>
<rect class="W" x="181.5" y="567.5" width="5" height="5"/>
<rect class="W" x="240.5" y="582.5" width="5" height="5"/>
<rect class="W" x="148.5" y="565.5" width="5" height="5"/>
<rect class="W" x="242.5" y="568.5" width="5" height="5"/>
<rect class="W" x="249.5" y="566.5" width="5" height="5"/>
<rect class="W" x="175.5" y="566.5" width="5" height="5"/>
<rect class="W" x="315.5" y="564.5" width="5" height="5"/>
<rect class="W" x="137.5" y="570.5" width="5" height="5"/>
<rect class="W" x="262.5" y="568.5" width="5" height="5"/>
<rect class="W" x="232.5" y="585.5" width="5" height="5"/>
<rect class="W" x="250.5" y="561.5" width="5" height="5"/>
<rect class="W" x="265.5" y="569.5" width="5" height="5"/>
<rect class="W" x="345.5" y="562.5" width="5" height="5"/>
<rect class="W" x="134.5" y="566.5" width="5" height="5"/>
<rect class="W" x="320.5" y="559.5" width="5" height="5"/>
<rect class="W" x="346.5" y="574.5" width="5" height="5"/>
<rect class="W" x="228.5" y="576.5" width="5" height="5"/>
<rect class="W" x="133.5" y="577.5" width="5" height="5"/>
<rect class="W" x="115.5" y="568.5" width="5" height="5"/>
<rect class="W" x="232.5" y="557.5" width="5" height="5"/>
<rect class="W" x="226.5" y="572.5" width="5" height="5"/>
<rect class="W" x="318.5" y="556.5" width="5" height="5"/>
<rect class="W" x="386.5" y="572.5" width="5" height="5"/>
<rect class="W" x="156.5" y="567.5" width="5" height="5"/>
<rect class="W" x="234.5" y="555.5" width="5" height="5"/>
<rect class="W" x="134.5" y="582.5" width="5" height="5"/>
<rect class="W" x="194.5" y="556.5" width="5" height="5"/>
<rect class="W" x="339.5" y="554.5" width="5" height="5"/>
<rect class="W" x="383.5" y="552.5" width="5" height="5"/>
<rect class="W" x="223.5" y="552.5" width="5" height="5"/>
<rect class="W" x="221.5" y="555.5" width="5" height="5"/>
<rect class="W" x="221.5" y="560.5" width="5" height="5"/>
<rect class="W" x="353.5" y="564.5" width="5" height="5"/>
<rect class="W" x="433.5" y="566.5" width="5" height="5"/>
<rect class="W" x="220.5" y="582.5" width="5" height="5"/>
<rect class="W" x="332.5" y="550.5" width="5" height="5"/>
<rect class="W" x="275.5" y="573.5" width="5" height="5"/>
<rect class="W" x="299.5" y="564.5" width="5" height="5"/>
<rect class="W" x="298.5" y="553.5" width="5" height="5"/>
<rect class="W" x="298.5" y="574.5" width="5" height="5"/>
<rect class="W" x="276.5" y="583.5" width="5" height="5"/>
<rect class="W" x="161.5" y="565.5" width="5" height="5"/>
<rect class="W" x="217.5" y="565.5" width="5" height="5"/>
<rect class="W" x="297.5" y="578.5" width="5" height="5"/>
<rect class="W" x="357.5" y="552.5" width="5" height="5"/>
<rect class="W" x="260.5" y="547.5" width="5" height="5"/>
<rect class="W" x="278.5" y="568.5" width="5" height="5"/>
<rect class="W" x="167.5" y="568.5" width="5" height="5"/>
<rect class="W" x="215.5" y="560.5" width="5" height="5"/>
<rect class="W" x="294.5" y="566.5" width="5" height="5"/>
<rect class="W" x="361.5" y="564.5" width="5" height="5"/>
<rect class="W" x="164.5" y="574.5" width="5" height="5"/>
<rect class="W" x="282.5" y="552.5" width="5" height="5"/>
<rect class="W" x="282.5" y="554.5" width="5" height="5"/>
<rect class="W" x="212.5" y="574.5" width="5" height="5"/>
<rect class="W" x="211.5" y="554.5" width="5" height="5"/>
<rect class="W" x="365.5" y="588.5" width="5" height="5"/>
<rect class="W" x="207.5" y="564.5" width="5" height="5"/>
</g>
<line x1="71.4" y1="180.4" x2="434.3" y2="137.9" stroke="#111" stroke-width="2.4"/>
<line x1="71.0" y1="339.4" x2="434.3" y2="323.2" stroke="#111" stroke-width="2.4"/>
<line x1="116.6" y1="576.0" x2="437.2" y2="563.4" stroke="#999" stroke-width="2.4"/>
<line x1="71.7" y1="521.4" x2="163.9" y2="563.6" stroke="#111" stroke-width="2.4"/>
<rect x="58.8" y="5.4" width="91.7" height="67.8" fill="#fff" stroke="#111" stroke-width="1"/>
<circle class="C" cx="66.9" cy="17" r="2.9"/><text class="t b" x="76" y="20.7">Cold-Cold</text>
<circle class="O" cx="66.9" cy="32" r="2.2"/><text class="t b" x="74.5" y="36.8">Warm-Cold</text>
<rect class="G" x="64.5" y="43.5" width="5" height="5"/><text class="t b" x="74.7" y="51.8">Cold-Warm</text>
<rect class="W" x="64.5" y="59.5" width="5" height="5"/><text class="t b" x="74.5" y="67.1">Warm-Warm</text>
<text class="b" style="font-size:10.9px" x="359.3" y="39.6" text-anchor="middle">y (total) = 0.1486x + 9.1247</text>
<text class="b" style="font-size:10.9px" x="358.7" y="56.6" text-anchor="middle">R<tspan dy="-4" style="font-size:7px">2</tspan><tspan dy="4"> = 0.1739, n = 258, p &lt; 0.0001</tspan></text>
<text class="b" style="font-size:10.9px" x="359.7" y="259.6" text-anchor="middle">y (total) = 0.1826x + 68.958</text>
<text class="b" style="font-size:10.9px" x="360.2" y="276.6" text-anchor="middle">R<tspan dy="-4" style="font-size:7px">2</tspan><tspan dy="4"> = 0.0352, n = 258, p &lt; 0.003</tspan></text>
<text class="b" style="font-size:10.8px" x="188.4" y="442" text-anchor="middle">Cold temperature start-feeding groups</text>
<text class="s" x="189" y="455.8" text-anchor="middle">y = -0.1874x + 11.744</text>
<text class="s" x="188" y="470" text-anchor="middle">R<tspan dy="-4" style="font-size:6.2px">2</tspan><tspan dy="4"> = 0.0511, n = 137, p &lt; 0.01</tspan></text>
<text class="b" style="font-size:10.95px" x="370" y="510.7" text-anchor="middle">Warm temperature start-feeding groups</text>
<text class="s" x="370" y="523" text-anchor="middle">y = 0.0161x + 3.758</text>
<text class="s" x="370.2" y="536.7" text-anchor="middle">R<tspan dy="-4" style="font-size:6.2px">2</tspan><tspan dy="4"> = 0.0826, n = 121, p &lt; 0.002</tspan></text>
<text class="b" style="font-size:15px" transform="translate(18.6 122.6) rotate(-90)" text-anchor="middle">T/C ratio</text>
<text class="b" style="font-size:15px" transform="translate(14 316) rotate(-90)" text-anchor="middle">Trypsin</text>
<text class="b" style="font-size:15px" transform="translate(14.3 529) rotate(-90)" text-anchor="middle">Chymotrypsin</text>
<text class="b" style="font-size:15px" x="259.7" y="648.3" text-anchor="middle">Weight (g)</text>
</svg></body></html>
